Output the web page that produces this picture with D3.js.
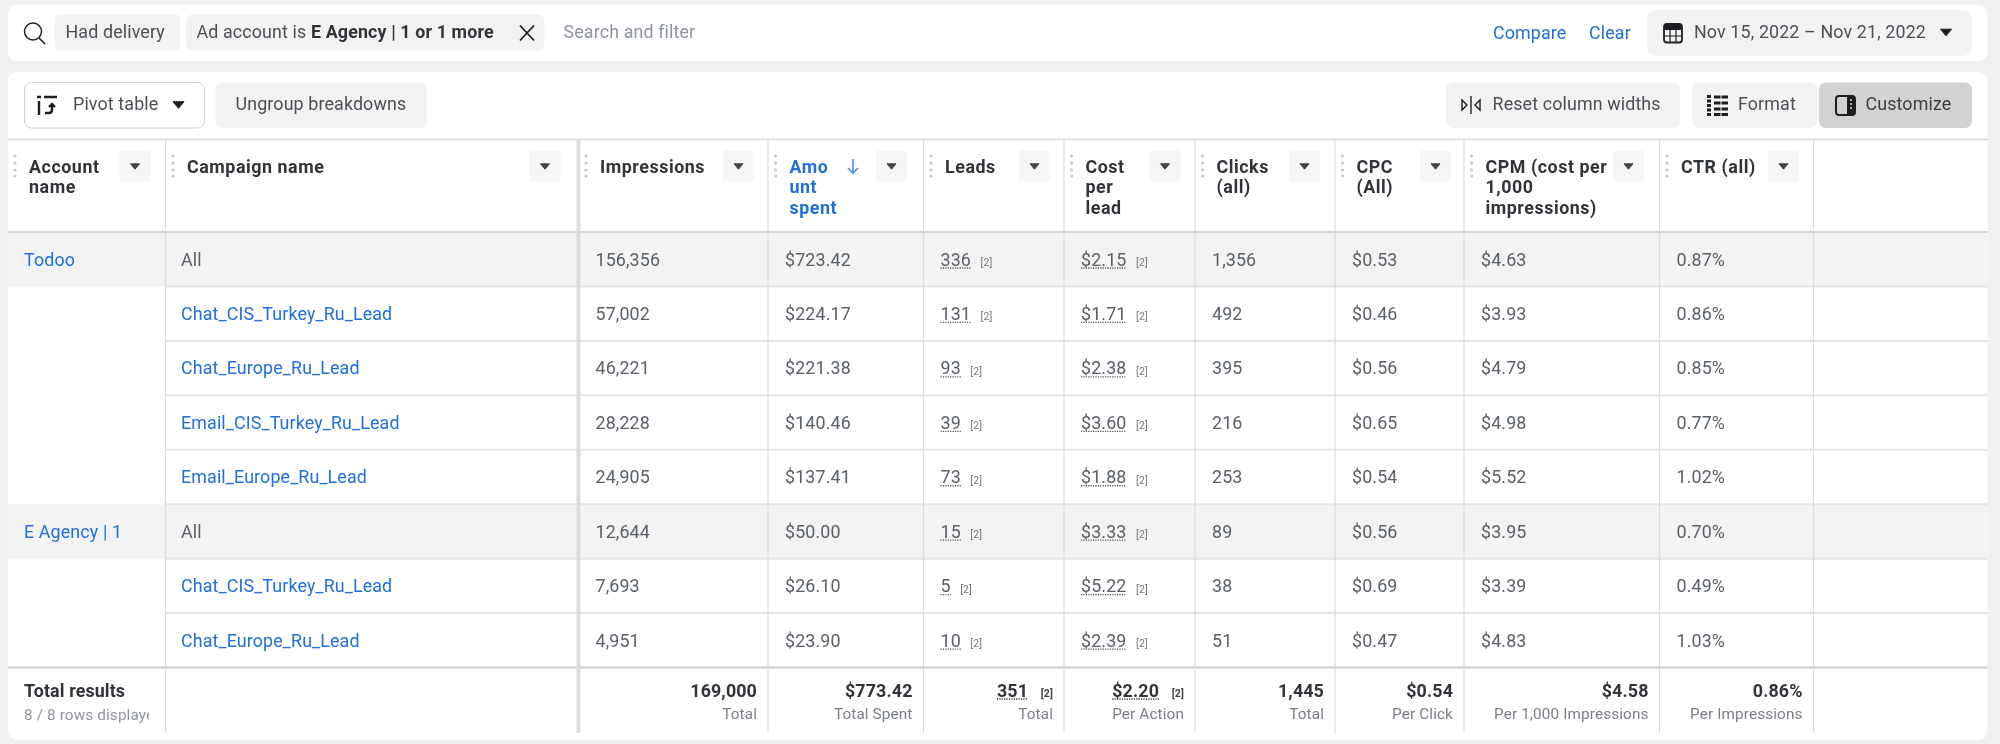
<!DOCTYPE html>
<html>
<head>
<meta charset="utf-8">
<script src="https://cdn.jsdelivr.net/npm/d3@7"></script>
<style>
  html, body { margin: 0; padding: 0; background: #f0f0f0; }
  svg { display: block; filter: blur(0.55px); }
  text { font-family: Roboto, sans-serif; letter-spacing: 0.13px; }
  text.head { letter-spacing: 0.55px; }
</style>
</head>
<body>
<svg id="chart" width="2000" height="744"></svg>
<script>
// table data
const accounts = ["Todoo", "", "", "", "", "E Agency | 1", "", ""];
const campaigns = ["All", "Chat_CIS_Turkey_Ru_Lead", "Chat_Europe_Ru_Lead", "Email_CIS_Turkey_Ru_Lead",
  "Email_Europe_Ru_Lead", "All", "Chat_CIS_Turkey_Ru_Lead", "Chat_Europe_Ru_Lead"];
const impressions = [156356, 57002, 46221, 28228, 24905, 12644, 7693, 4951];
const amountSpent = [723.42, 224.17, 221.38, 140.46, 137.41, 50.00, 26.10, 23.90];
const leads = [336, 131, 93, 39, 73, 15, 5, 10];
const costPerLead = [2.15, 1.71, 2.38, 3.60, 1.88, 3.33, 5.22, 2.39];
const clicks = [1356, 492, 395, 216, 253, 89, 38, 51];
const cpc = [0.53, 0.46, 0.56, 0.65, 0.54, 0.56, 0.69, 0.47];
const cpm = [4.63, 3.93, 4.79, 4.98, 5.52, 3.95, 3.39, 4.83];
const ctr = [0.87, 0.86, 0.85, 0.77, 1.02, 0.70, 0.49, 1.03];

const columnKeys = ["account", "campaign", "impressions", "spent", "leads", "cost", "clicks", "cpc", "cpm", "ctr", "end"];
const columnHeaders = [["Account", "name"], ["Campaign name"], ["Impressions"], ["Amo", "unt", "spent"], ["Leads"],
  ["Cost", "per", "lead"], ["Clicks", "(all)"], ["CPC", "(All)"], ["CPM (cost per", "1,000", "impressions)"], ["CTR (all)"]];
const totalValues = [169000, 773.42, 351, 2.20, 1445, 0.54, 4.58, 0.86];
const totalLabels = ["Total", "Total Spent", "Total", "Per Action", "Total", "Per Click", "Per 1,000 Impressions", "Per Impressions"];

const BLUE = "#216fdb", INK = "#1c1e21", GREY = "#5a6068", FONT = 17.85;

const int = d3.format(","), money = d3.format("$,.2f"), pct = d => d3.format(".2f")(d) + "%";
const metricColumns = [
  {key: "impressions", values: impressions, fmt: int},
  {key: "spent", values: amountSpent, fmt: money},
  {key: "leads", values: leads, fmt: int, note: true},
  {key: "cost", values: costPerLead, fmt: money, note: true},
  {key: "clicks", values: clicks, fmt: int},
  {key: "cpc", values: cpc, fmt: money},
  {key: "cpm", values: cpm, fmt: money},
  {key: "ctr", values: ctr, fmt: pct}
];

const svg = d3.select("#chart");
const x = d3.scaleOrdinal(columnKeys, [8, 165.5, 578.5, 768, 923.5, 1064, 1195, 1335, 1464, 1659.5, 1813.5]);
const y = d3.scaleBand().domain(d3.range(campaigns.length)).range([232, 667.5]);
const headerBox = [119.5, 529.5, 723, 876, 1019, 1149.5, 1289, 1420, 1613, 1768];

const CARD_RIGHT = 1987.5, TABLE_BOTTOM = 733;

// cards
svg.append("rect").attr("x", 8).attr("y", 4.5).attr("width", CARD_RIGHT - 8).attr("height", 56.5).attr("rx", 9).attr("fill", "#fff");
svg.append("rect").attr("x", 8).attr("y", 72).attr("width", CARD_RIGHT - 8).attr("height", 668).attr("rx", 9).attr("fill", "#fff");

function label(g, str, xPos, yPos, o) {
  o = o || {};
  return g.append("text").text(str)
    .attr("x", xPos).attr("y", yPos)
    .attr("font-size", o.size || FONT)
    .attr("font-weight", o.weight || 400)
    .attr("fill", o.fill || GREY)
    .attr("text-anchor", o.anchor || "start");
}

function button(g, x0, x1, y0, y1, fill, rx) {
  return g.append("rect").attr("x", x0).attr("y", y0).attr("width", x1 - x0).attr("height", y1 - y0)
    .attr("rx", rx || 7).attr("fill", fill);
}

function caret(g, cx, cy, w, fill) {
  const h = w * 0.6;
  g.append("path").attr("d", `M${cx - w / 2},${cy - h / 2}h${w}l${-w / 2},${h}z`)
    .attr("fill", fill || "#1c1e21").attr("stroke", fill || "#1c1e21").attr("stroke-width", 1).attr("stroke-linejoin", "round");
}

// search bar
const bar = svg.append("g");
bar.append("circle").attr("cx", 33).attr("cy", 31.5).attr("r", 8.5).attr("fill", "none").attr("stroke", INK).attr("stroke-width", 1.5);
bar.append("line").attr("x1", 39).attr("y1", 38).attr("x2", 45).attr("y2", 44).attr("stroke", INK).attr("stroke-width", 1.6);
button(bar, 54.5, 180, 14.5, 50.5, "#f2f2f2", 5);
label(bar, "Had delivery", 65.5, 38, {fill: "#4b4f56"});
button(bar, 186, 544.5, 14.5, 50.5, "#f2f2f2", 7);
const chip = label(bar, "Ad account is ", 196.5, 38, {fill: "#4b4f56"});
chip.append("tspan").text("E Agency | 1 or 1 more").attr("font-weight", 700).attr("fill", "#303338");
bar.append("path").attr("d", "M520,25.5L534,40.5M534,25.5L520,40.5").attr("stroke", INK).attr("stroke-width", 1.8).attr("fill", "none");
label(bar, "Search and filter", 563.5, 38, {fill: "#8d949e"});
label(bar, "Compare", 1493, 39, {fill: BLUE});
label(bar, "Clear", 1589, 39, {fill: BLUE});
button(bar, 1647, 1972, 10, 56, "#f2f2f2", 9);
label(bar, "Nov 15, 2022 – Nov 21, 2022", 1694, 38, {fill: "#4b4f56"});
caret(bar, 1946, 32.5, 11);
// calendar icon
bar.append("rect").attr("x", 1664).attr("y", 24).attr("width", 18).attr("height", 18.5).attr("rx", 3).attr("fill", "none").attr("stroke", INK).attr("stroke-width", 1.8);
bar.append("rect").attr("x", 1664).attr("y", 24).attr("width", 18).attr("height", 6).attr("rx", 2).attr("fill", INK);
bar.append("path").attr("d", "M1664,36H1682M1670,30V42M1676,30V42").attr("stroke", INK).attr("stroke-width", 1.2);

// toolbar
const tools = svg.append("g");
button(tools, 24.5, 204.5, 82.5, 128, "#fff", 7).attr("stroke", "#ccd0d5").attr("stroke-width", 1);
tools.append("path").attr("d", "M37,97h4M44,97h13M39,101v14M45,113h4q3,0 3,-3v-6M49,107l3,-3l3,3").attr("fill", "none").attr("stroke", INK).attr("stroke-width", 2.4);
label(tools, "Pivot table", 73, 110, {fill: "#4b4f56"});
caret(tools, 178.5, 105, 11);
button(tools, 215.5, 427, 82.5, 128, "#f2f2f2", 7);
label(tools, "Ungroup breakdowns", 235.5, 110, {fill: "#4b4f56"});
button(tools, 1446, 1680, 82.5, 128, "#f2f2f2", 7);
tools.append("path").attr("d", "M1471,96V114").attr("stroke", INK).attr("stroke-width", 1.4);
tools.append("path").attr("d", "M1462,100l5,5l-5,5zM1480,100l-5,5l5,5z").attr("fill", "none").attr("stroke", INK).attr("stroke-width", 1.4);
label(tools, "Reset column widths", 1492.5, 110, {fill: "#4b4f56"});
button(tools, 1692, 1817, 82.5, 128, "#f2f2f2", 7);
tools.append("path").attr("d", "M1707,96.5h4M1707,101h4M1707,105.5h4M1707,110h4M1707,114.5h4M1714,97h14M1714,103h14M1714,109h14M1714,114.5h14").attr("stroke", INK).attr("stroke-width", 3);
tools.append("path").attr("d", "M1721,95V116").attr("stroke", "#f2f2f2").attr("stroke-width", 1);
label(tools, "Format", 1738, 110, {fill: "#4b4f56"});
button(tools, 1819, 1972, 82.5, 128, "#d2d2d2", 7);
tools.append("rect").attr("x", 1836).attr("y", 96).attr("width", 19).attr("height", 19).attr("rx", 3).attr("fill", "none").attr("stroke", INK).attr("stroke-width", 2);
tools.append("rect").attr("x", 1847).attr("y", 96).attr("width", 8).attr("height", 19).attr("fill", INK);
tools.append("path").attr("d", "M1850,100h2M1850,104h2M1850,108h2").attr("stroke", "#d2d2d2").attr("stroke-width", 1.4);
label(tools, "Customize", 1865.5, 110, {fill: "#3a3d42"});

// shaded "All" rows
const plot = svg.append("g");
plot.selectAll("rect.shade").data(d3.range(campaigns.length).filter(i => campaigns[i] === "All"))
  .join("rect").attr("class", "shade")
  .attr("x", x("account")).attr("y", d => y(d))
  .attr("width", CARD_RIGHT - x("account")).attr("height", y.bandwidth())
  .attr("fill", "#f3f3f3");

// grid
plot.append("line").attr("x1", 8).attr("x2", CARD_RIGHT).attr("y1", 139.5).attr("y2", 139.5).attr("stroke", "#d8d8d8").attr("stroke-width", 1.5);
plot.append("line").attr("x1", 8).attr("x2", CARD_RIGHT).attr("y1", 232).attr("y2", 232).attr("stroke", "#d6d6d6").attr("stroke-width", 2);
plot.selectAll("line.row").data(d3.range(1, campaigns.length))
  .join("line").attr("class", "row")
  .attr("x1", x("campaign")).attr("x2", CARD_RIGHT)
  .attr("y1", d => y(d)).attr("y2", d => y(d))
  .attr("stroke", "#e4e4e4").attr("stroke-width", 2);
plot.append("line").attr("x1", 8).attr("x2", CARD_RIGHT).attr("y1", y.range()[1]).attr("y2", y.range()[1]).attr("stroke", "#d6d6d6").attr("stroke-width", 2.5);
plot.selectAll("line.col").data(columnKeys.slice(1))
  .join("line").attr("class", "col")
  .attr("x1", d => x(d)).attr("x2", d => x(d))
  .attr("y1", 139.5).attr("y2", TABLE_BOTTOM)
  .attr("stroke", "#dcdcdc")
  .attr("stroke-width", d => d === "impressions" ? 4 : 1.2);

// header
const header = svg.append("g");
columnKeys.slice(0, 10).forEach((key, i) => {
  const left = x(key), blue = key === "spent";
  const g = header.append("g");
  g.selectAll("circle").data([156, 163, 170, 176]).join("circle")
    .attr("cx", left + (i ? 7.5 : 7)).attr("cy", d => d).attr("r", 1.6).attr("fill", "#c8c8c8");
  g.append("rect").attr("x", headerBox[i]).attr("y", 150.5).attr("width", 31).attr("height", 30.5).attr("rx", 2).attr("fill", "#f5f6f7");
  caret(g, headerBox[i] + 15.5, 166.5, 9, "#444");
  columnHeaders[i].forEach((line, j) => {
    label(g, line, left + (i ? 21.5 : 21), 172.5 + j * 20.6, {weight: 700, fill: blue ? BLUE : "#303338"}).attr("class", "head");
  });
});
header.append("path").attr("d", "M853,159V173M848,168l5,5l5,-5").attr("fill", "none").attr("stroke", "#4a8be8").attr("stroke-width", 1.6);

// body
const body = svg.append("g");
const baseline = i => y(i) + y.bandwidth() / 2 + 6.3;
accounts.forEach((d, i) => { if (d) label(body, d, 24, baseline(i), {fill: BLUE}); });
campaigns.forEach((d, i) => label(body, d, x("campaign") + 15.5, baseline(i), {fill: d === "All" ? GREY : BLUE}));

// dotted underline plus the small [2] note
function noted(g, node, total) {
  const box = node.node().getBBox(), yPos = +node.attr("y");
  g.append("line").attr("x1", box.x).attr("x2", box.x + box.width)
    .attr("y1", yPos + 2.5).attr("y2", yPos + 2.5)
    .attr("stroke", total ? "#333" : "#555").attr("stroke-width", 1.3).attr("stroke-dasharray", "1.2,1.2");
}

metricColumns.forEach(col => {
  const left = x(col.key) + 17;
  col.values.forEach((v, i) => {
    const t = label(body, col.fmt(v), left, baseline(i));
    if (col.note) {
      noted(body, t);
      label(body, "[2]", left + t.node().getComputedTextLength() + 9.5, baseline(i) + 0.5, {size: 10.5, fill: "#777"});
    }
  });
});

// totals
const foot = svg.append("g");
foot.append("clipPath").attr("id", "rowsClip").append("rect").attr("x", 20).attr("y", 700).attr("width", 129).attr("height", 30);
label(foot, "Total results", 24, 696.5, {weight: 700, fill: "#303338"});
label(foot, "8 / 8 rows displayed", 24, 719.5, {size: 15.3, fill: "#90949c"}).attr("clip-path", "url(#rowsClip)");
metricColumns.forEach((col, i) => {
  let right = x(columnKeys[columnKeys.indexOf(col.key) + 1]) - 11;
  label(foot, totalLabels[i], right, 718.5, {size: 15.3, fill: "#7a7f87", anchor: "end"});
  if (col.note) {
    label(foot, "[2]", right, 697, {size: 10.5, weight: 700, fill: "#444", anchor: "end"});
    right -= 25;
  }
  const t = label(foot, col.fmt(totalValues[i]), right, 696.5, {weight: 700, fill: "#303338", anchor: "end"});
  if (col.note) noted(foot, t, true);
});
</script>
</body>
</html>
